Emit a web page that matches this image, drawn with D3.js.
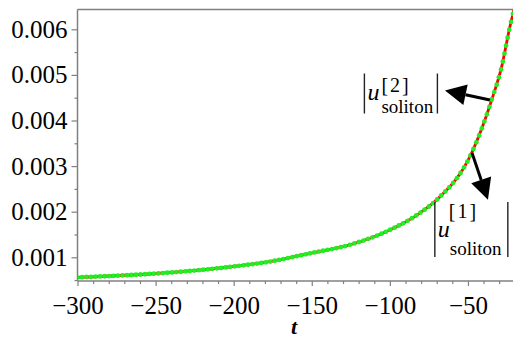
<!DOCTYPE html>
<meta charset="utf-8">
<style>
  body { margin: 0; background: #fff; }
</style>
<body>
<script src="https://cdnjs.cloudflare.com/ajax/libs/d3/7.8.5/d3.min.js"></script>
<script>
// values
var tValues = [-300, -254, -228, -203, -177, -151, -126, -100, -81, -70, -47.6, -34.8, -28.4, -23.1, -20];
var uValues = [0.000561, 0.000634, 0.000700, 0.000787, 0.000904, 0.001088, 0.00127, 0.0016, 0.001965, 0.00226, 0.00329, 0.00445, 0.00518, 0.00606, 0.0065];
var xTicks = [-300, -250, -200, -150, -100, -50];
var yTicks = [0.001, 0.002, 0.003, 0.004, 0.005, 0.006];

var serif = "'Liberation Serif', 'Times New Roman', 'DejaVu Serif', serif";
var width = 513, height = 343;
var plotLeft = 77.5, plotTop = 9.5, plotRight = 514.8, plotBottom = 281;

var svg = d3.select("body").append("svg")
  .attr("width", width)
  .attr("height", height)
  .attr("font-family", serif);

var x = d3.scaleLinear().domain([-300, -20]).range([plotLeft, plotRight]);
var y = d3.scaleLinear().domain([0.00048, 0.006434]).range([plotBottom, plotTop]);

var data = tValues.map(function(t, i) { return {t: t, u: uValues[i]}; });

svg.append("clipPath").attr("id", "clip")
  .append("rect").attr("x", plotLeft).attr("y", plotTop)
  .attr("width", plotRight - plotLeft).attr("height", plotBottom - plotTop);

// top frame line
svg.append("line")
  .attr("x1", plotLeft).attr("x2", width).attr("y1", plotTop).attr("y2", plotTop)
  .attr("stroke", "#808080").attr("stroke-width", 1.5);

// minor ticks
var minorX = d3.range(-300, -10, 10).filter(function(v) { return v % 50 != 0; });
var minorY = d3.range(0.0005, 0.0064, 0.0005).filter(function(v) { return Math.round(v * 10000) % 10 != 0; });

svg.append("g")
  .attr("transform", "translate(0," + plotBottom + ")")
  .call(d3.axisBottom(x).tickValues(minorX).tickSize(3).tickFormat(""))
  .call(function(g) { g.select(".domain").remove(); g.selectAll("line").attr("stroke", "#808080").attr("stroke-width", 1.2); });

svg.append("g")
  .attr("transform", "translate(" + plotLeft + ",0)")
  .call(d3.axisLeft(y).tickValues(minorY).tickSize(3).tickFormat(""))
  .call(function(g) { g.select(".domain").remove(); g.selectAll("line").attr("stroke", "#808080").attr("stroke-width", 1.2); });

// main axes
var xAxis = svg.append("g")
  .attr("transform", "translate(0," + plotBottom + ")")
  .call(d3.axisBottom(x).tickValues(xTicks).tickSize(5).tickPadding(10).tickSizeOuter(0).tickFormat(d3.format("d")));

var yAxis = svg.append("g")
  .attr("transform", "translate(" + plotLeft + ",0)")
  .call(d3.axisLeft(y).tickValues(yTicks).tickSize(6).tickPadding(4).tickSizeOuter(0).tickFormat(d3.format(".3f")));

[xAxis, yAxis].forEach(function(a) {
  a.attr("font-family", serif).attr("font-size", 25);
  a.select(".domain").attr("stroke", "#808080").attr("stroke-width", 1.5);
  a.selectAll(".tick line").attr("stroke", "#808080").attr("stroke-width", 1.2);
  a.selectAll("text").attr("fill", "#000");
});
xAxis.select(".domain").attr("d", "M" + plotLeft + ",0H" + width);
yAxis.select(".domain").attr("d", "M0," + plotTop + "V" + plotBottom);

svg.append("text")
  .attr("x", (plotLeft + plotRight) / 2 - 2)
  .attr("y", 334)
  .attr("text-anchor", "middle")
  .attr("font-size", 22)
  .attr("font-weight", "bold")
  .attr("font-style", "italic")
  .text("t");

// curves
var line = d3.line()
  .x(function(d) { return x(d.t); })
  .y(function(d) { return y(d.u); })
  .curve(d3.curveMonotoneX);

var plot = svg.append("g").attr("clip-path", "url(#clip)");

var red = plot.append("path")
  .datum(data)
  .attr("d", line)
  .attr("fill", "none")
  .attr("stroke", "#ff0000")
  .attr("stroke-width", 2.8);

// green dotted line: dots close together where the curve is flat, further apart where it is steep
var node = red.node();
var total = node.getTotalLength();
var dots = [];
var last = null;
for (var l = 0; l <= total; l += 0.3) {
  var p = node.getPointAtLength(l);
  if (!last || Math.pow((p.x - last.x) / 4.4, 2) + Math.pow((p.y - last.y) / 8.5, 2) >= 1) {
    dots.push(p); last = p;
  }
}
plot.append("g").selectAll("circle")
  .data(dots)
  .enter().append("circle")
  .attr("cx", function(d) { return d.x; })
  .attr("cy", function(d) { return d.y; })
  .attr("r", 2.4)
  .attr("fill", "#22ee22");

// arrows
var arrows = [
  {from: [-35.9, 0.00445], to: [-64.7, 0.004658]},
  {from: [-47.4, 0.00329], to: [-37.2, 0.00226]}
];
arrows.forEach(function(a) {
  var x1 = x(a.from[0]), y1 = y(a.from[1]);
  var x2 = x(a.to[0]), y2 = y(a.to[1]);
  var ang = Math.atan2(y2 - y1, x2 - x1);
  var hl = 21, hw = 10.5;
  var bx = x2 - hl * Math.cos(ang), by = y2 - hl * Math.sin(ang);
  svg.append("line")
    .attr("x1", x1).attr("y1", y1).attr("x2", bx).attr("y2", by)
    .attr("stroke", "#000").attr("stroke-width", 3);
  svg.append("path")
    .attr("d", "M" + x2 + "," + y2 +
      "L" + (bx + hw * Math.sin(ang)) + "," + (by - hw * Math.cos(ang)) +
      "L" + (bx - hw * Math.sin(ang)) + "," + (by + hw * Math.cos(ang)) + "Z")
    .attr("fill", "#000");
});

// labels |u_soliton^[k]|
function label(px, py, k, layout) {
  var g = svg.append("g").attr("transform", "translate(" + px + "," + py + ")");
  g.append("line").attr("x1", 0).attr("x2", 0).attr("y1", 0).attr("y2", layout.h)
    .attr("stroke", "#222").attr("stroke-width", 1.4);
  g.append("line").attr("x1", layout.w).attr("x2", layout.w).attr("y1", 0).attr("y2", layout.h)
    .attr("stroke", "#222").attr("stroke-width", 1.4);
  g.append("text").attr("x", 3).attr("y", layout.uy)
    .attr("font-size", 24).attr("font-style", "italic").text("u");
  g.append("text").attr("x", layout.bx).attr("y", layout.by)
    .attr("font-size", 20).attr("letter-spacing", 2).text("[" + k + "]");
  g.append("text").attr("x", layout.sx).attr("y", layout.sy)
    .attr("font-size", 19).text("soliton");
}
label(x(-116.3), y(0.00503), 2, {w: 73, h: 40, uy: 26, bx: 17, by: 18, sx: 17, sy: 39});
label(x(-71.2), y(0.002215), 1, {w: 73, h: 55, uy: 35, bx: 14, by: 16, sx: 15, sy: 53});
</script>
</body>
